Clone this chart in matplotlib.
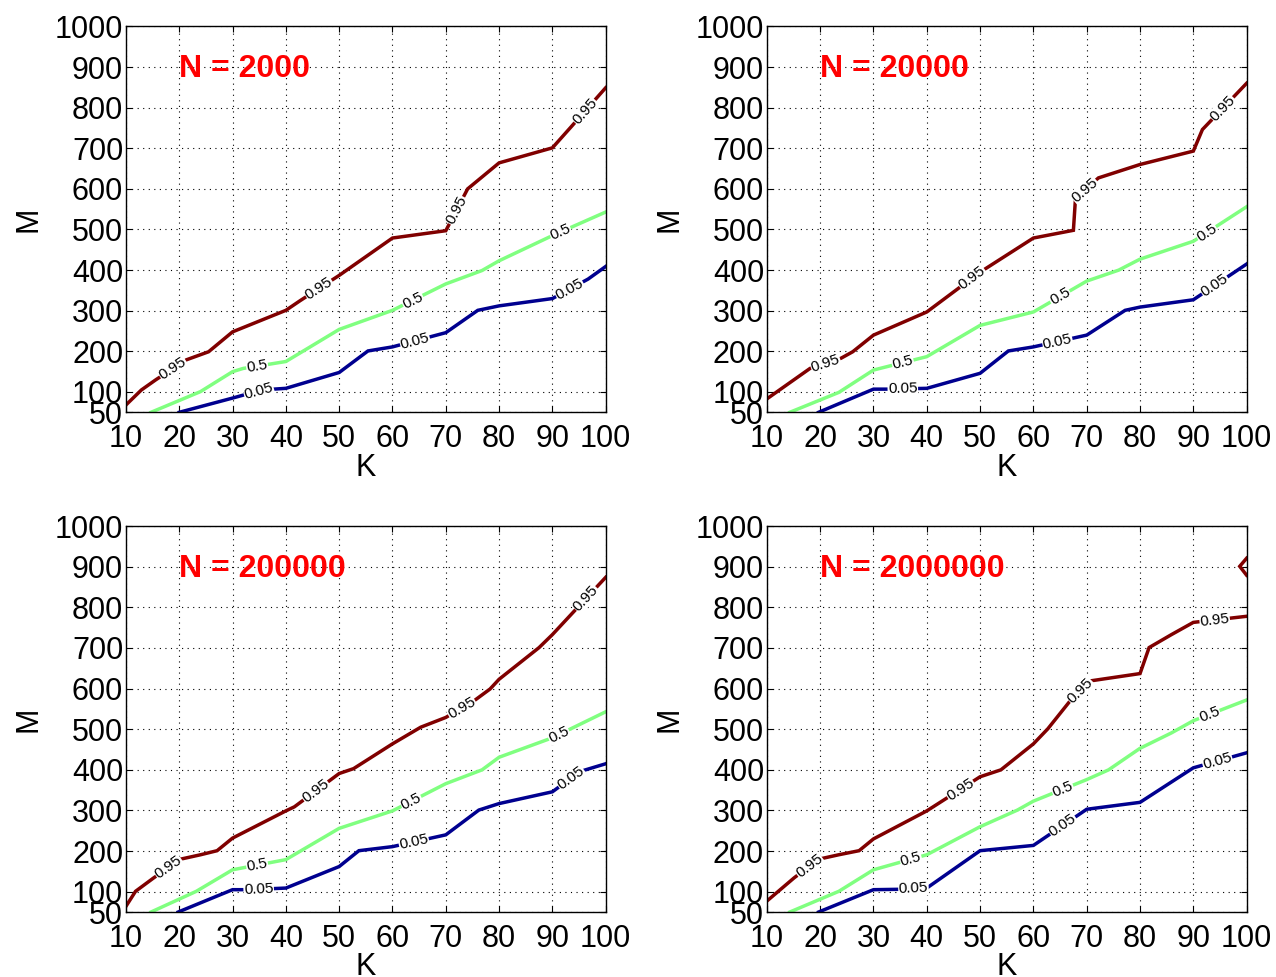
import numpy as np
import matplotlib
matplotlib.use('Agg')
import matplotlib.pyplot as plt

plt.rcParams['font.family'] = ['Liberation Sans', 'DejaVu Sans']

# contour levels and colours (jet colormap ends + middle)
levels = ['0.05', '0.5', '0.95']
colors = {'0.05': '#00008f', '0.5': '#80ff80', '0.95': '#800000'}

titles = ['N = 2000', 'N = 20000', 'N = 200000', 'N = 2000000']

# --- N = 2000 ---
n1_k95 = [10, 12.9, 15.6, 21.3, 25.5, 30, 40, 42.7, 50, 60, 70, 74.1, 80, 90, 93.6, 100]
n1_m95 = [68, 105, 130, 179, 199, 248, 301, 325, 387, 479, 497, 600, 664, 701, 754, 849]
n1_k50 = [14.7, 24, 30, 32, 40, 50, 60, 70, 76.8, 80, 90, 100]
n1_m50 = [50, 101, 150, 158, 175, 254, 301, 366, 399, 423, 485, 543]
n1_k05 = [20, 30, 35.5, 40, 50, 55.4, 60, 70, 76, 80, 90, 96.7, 100]
n1_m05 = [50, 85, 105, 109, 148, 201, 211, 246, 301, 312, 330, 378, 409]

# --- N = 20000 ---
n2_k95 = [10, 18.1, 23.9, 26.1, 30, 40, 50, 60, 67.5, 67.9, 72.2, 80, 90, 91.7, 100]
n2_m95 = [83, 158, 183, 199, 240, 297, 395, 479, 498, 578, 627, 660, 693, 746, 860]
n2_k50 = [14.3, 23.5, 30, 40, 50, 60, 70, 76, 80, 90, 100]
n2_m50 = [50, 99, 154, 187, 264, 297, 373, 400, 427, 471, 556]
n2_k05 = [19.7, 30, 33, 40, 50, 55.3, 60, 70, 77.2, 80, 90, 100]
n2_m05 = [50, 107, 107, 109, 146, 201, 211, 240, 301, 309, 327, 415]

# --- N = 200000 ---
n3_k95 = [10, 11.8, 15.2, 20.2, 24, 27.1, 30, 40, 41.6, 50, 52.7, 60, 65.3, 70,
          75.3, 78.3, 80, 87.5, 90, 100]
n3_m95 = [64, 101, 134, 180, 191, 201, 232, 299, 309, 391, 403, 464, 505, 529,
          570, 599, 623, 701, 733, 874]
n3_k50 = [14.7, 23.2, 30, 40, 50, 60, 70, 76.8, 80, 90, 100]
n3_m50 = [50, 101, 154, 179, 256, 299, 366, 400, 431, 479, 543]
n3_k05 = [19.8, 30, 33, 40, 50, 53.7, 60, 70, 76.2, 80, 90, 95.2, 100]
n3_m05 = [50, 105, 105, 109, 162, 201, 211, 240, 301, 317, 346, 396, 415]

# --- N = 2000000 ---
n4_k95 = [10, 15.1, 19.7, 23.5, 27.3, 30, 40, 50, 53.9, 60, 62.7, 66.9, 70.7,
          80, 81.7, 85.9, 90, 100]
n4_m95 = [77, 134, 180, 191, 201, 230, 299, 383, 400, 464, 501, 570, 619,
          637, 701, 733, 763, 778]
n4_k95b = [100, 98.7, 100]
n4_m95b = [921, 901, 879]
n4_k50 = [14.3, 23.5, 30, 40, 50, 57, 60, 70, 74.1, 80, 85.9, 90, 100]
n4_m50 = [50, 101, 154, 191, 260, 301, 323, 376, 400, 453, 491, 521, 572]
n4_k05 = [19.7, 30, 35, 40, 50, 60, 70, 80, 90, 100]
n4_m05 = [50, 105, 106, 109, 201, 214, 303, 320, 405, 442]

curves = [
    {'0.95': [(n1_k95, n1_m95)], '0.5': [(n1_k50, n1_m50)], '0.05': [(n1_k05, n1_m05)]},
    {'0.95': [(n2_k95, n2_m95)], '0.5': [(n2_k50, n2_m50)], '0.05': [(n2_k05, n2_m05)]},
    {'0.95': [(n3_k95, n3_m95)], '0.5': [(n3_k50, n3_m50)], '0.05': [(n3_k05, n3_m05)]},
    {'0.95': [(n4_k95, n4_m95), (n4_k95b, n4_m95b)], '0.5': [(n4_k50, n4_m50)],
     '0.05': [(n4_k05, n4_m05)]},
]

# where clabel put its labels (K value along each line)
label_k = [
    {'0.95': [18.8, 46.2, 72.0, 96.1], '0.5': [34.6, 63.8, 91.5], '0.05': [34.9, 64.2, 93.2]},
    {'0.95': [21.0, 48.5, 69.6, 95.5], '0.5': [35.5, 65.0, 92.5], '0.05': [35.5, 64.5, 94.0]},
    {'0.95': [18.0, 45.6, 73.0, 96.3], '0.5': [34.6, 63.5, 91.2], '0.05': [34.9, 64.0, 93.5]},
    {'0.95': [18.0, 46.3, 68.8, 94.0], '0.5': [37.0, 65.5, 93.0], '0.05': [37.5, 65.5, 94.5]},
]

fig = plt.figure(figsize=(12.76, 9.77), dpi=100)
positions = [[0.0987, 0.578, 0.376, 0.395], [0.601, 0.578, 0.376, 0.395],
             [0.0987, 0.0665, 0.376, 0.395], [0.601, 0.0665, 0.376, 0.395]]

for i in range(4):
    ax = fig.add_axes(positions[i])
    ax.set_xlim(10, 100)
    ax.set_ylim(50, 1000)
    ax.set_xticks(np.arange(10, 101, 10))
    ax.set_yticks([50] + list(range(100, 1001, 100)))
    ax.grid(True, linestyle=(0, (1, 4)), color='black', linewidth=0.8)
    ax.tick_params(direction='in', length=4, labelsize=22, pad=2,
                   top=True, right=True)
    ax.tick_params(axis='x', pad=8.5)
    for s in ax.spines.values():
        s.set_linewidth(1.0)
    ax.set_xlabel('K', fontsize=22, labelpad=-1)
    ax.set_ylabel('M', fontsize=22, labelpad=8)
    ax.text(20, 895, titles[i], color='red', fontsize=23, fontweight='bold',
            va='center', ha='left')

    for lev in levels:
        for xs, ys in curves[i][lev]:
            ax.plot(xs, ys, color=colors[lev], linewidth=2.5, clip_on=True,
                    solid_joinstyle='miter')
        xs, ys = curves[i][lev][0]
        for k in label_k[i][lev]:
            m = np.interp(k, xs, ys)
            j = np.searchsorted(xs, k)
            j = min(max(j, 1), len(xs) - 1)
            p0 = ax.transData.transform((xs[j - 1], ys[j - 1]))
            p1 = ax.transData.transform((xs[j], ys[j]))
            ang = np.degrees(np.arctan2(p1[1] - p0[1], p1[0] - p0[0]))
            ax.text(k, m, lev, fontsize=11, rotation=ang, rotation_mode='anchor',
                    ha='center', va='center', color='black',
                    bbox=dict(facecolor='white', edgecolor='none', pad=0.3))

fig.savefig('out.png', dpi=100)
